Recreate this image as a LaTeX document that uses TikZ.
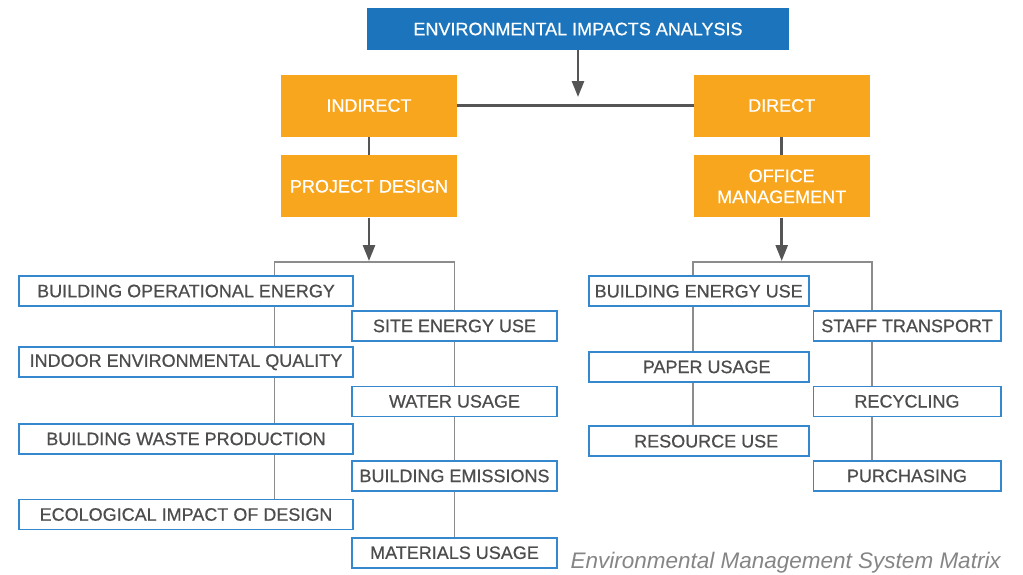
\documentclass[tikz,border=0pt]{standalone}
\usepackage{fontspec}
\setmainfont{Liberation Sans}
\newfontfamily\boxfam{Liberation Sans}[FakeBold=0.6]
\usetikzlibrary{arrows.meta}
\definecolor{topblue}{HTML}{1C75BC}
\definecolor{orng}{HTML}{F8A61E}
\definecolor{bordblue}{HTML}{3588CE}
\definecolor{txtgray}{HTML}{4D4D4D}
\definecolor{darkline}{HTML}{555555}
\definecolor{lightline}{HTML}{8C8C8C}
\definecolor{capgray}{HTML}{858585}
\begin{document}
\begin{tikzpicture}[x=1pt,y=-1pt,
  boxfont/.style={font=\boxfam\fontsize{18}{21}\selectfont},
  topbox/.style={boxfont, fill=topblue, text=white, minimum width=422pt, minimum height=42pt, inner sep=0pt},
  orangebox/.style={boxfont, fill=orng, text=white, minimum width=176pt, minimum height=62pt, inner sep=0pt, align=center},
  itembox/.style={boxfont, draw=bordblue, line width=1.6pt, fill=white, text=txtgray, minimum height=30pt, inner sep=0pt},
  arr/.style={draw=darkline, line width=2.6pt, -{Triangle[width=12pt,length=16pt]}},
  thickline/.style={draw=darkline, line width=2.6pt},
  bline/.style={draw=lightline, line width=1.3pt},
]
\useasboundingbox (0,0) rectangle (1023,574);

% top level
\node[topbox] (top) at (578,29) {ENVIRONMENTAL IMPACTS ANALYSIS};
\node[orangebox] (indirect) at (369,105.5) {INDIRECT};
\node[orangebox] (direct) at (781.7,105.5) {DIRECT};
\node[orangebox] (project) at (369,186.3) {PROJECT DESIGN};
\node[orangebox] (office) at (781.7,186.3) {OFFICE\\MANAGEMENT};

\coordinate (tipTop) at (578,97);
\coordinate (tipL) at (369,261);
\coordinate (tipR) at (781.7,261);

\draw[arr] (top.south) -- (tipTop);
\draw[thickline] (indirect.east) -- (direct.west);
\draw[thickline] (indirect.south) -- (project.north);
\draw[thickline] (direct.south) -- (office.north);
\draw[arr] (project.south) -- (tipL);
\draw[arr] (office.south) -- (tipR);

% left group
\node[itembox, minimum width=334pt] (boe) at (186,291) {BUILDING OPERATIONAL ENERGY};
\node[itembox, minimum width=334pt] (ieq) at (186,362.2) {INDOOR ENVIRONMENTAL QUALITY};
\node[itembox, minimum width=334pt] (bwp) at (186,438.9) {BUILDING WASTE PRODUCTION};
\node[itembox, minimum width=334pt] (eid) at (186,514.5) {ECOLOGICAL IMPACT OF DESIGN};
\node[itembox, minimum width=205pt] (seu) at (454.5,325.9) {SITE ENERGY USE};
\node[itembox, minimum width=205pt] (wu) at (454.5,401.3) {WATER USAGE};
\node[itembox, minimum width=205pt] (be) at (454.5,475.9) {BUILDING EMISSIONS};
\node[itembox, minimum width=205pt] (mu) at (454.5,552.7) {MATERIALS USAGE};

\coordinate (brLa) at (274.5,262);
\coordinate (brLb) at (454.5,262);
\draw[bline] (boe.north -| brLa) -- (brLa) -- (brLb) -- (seu.north);
\draw[bline] (boe.south -| brLa) -- (ieq.north -| brLa);
\draw[bline] (ieq.south -| brLa) -- (bwp.north -| brLa);
\draw[bline] (bwp.south -| brLa) -- (eid.north -| brLa);
\draw[bline] (seu.south) -- (wu.north);
\draw[bline] (wu.south) -- (be.north);
\draw[bline] (be.south) -- (mu.north);

% right group
\node[itembox, minimum width=220pt] (beu) at (698.7,291.2) {BUILDING ENERGY USE};
\node[itembox, minimum width=220pt] (pu) at (698.7,366.9) {\hspace*{16pt}PAPER USAGE};
\node[itembox, minimum width=220pt] (ru) at (698.7,441.2) {\hspace*{15pt}RESOURCE USE};
\node[itembox, minimum width=187.4pt] (st) at (907,325.9) {STAFF TRANSPORT};
\node[itembox, minimum width=187.4pt] (rec) at (907,401.3) {RECYCLING};
\node[itembox, minimum width=187.4pt] (pur) at (907,475.9) {PURCHASING};

\coordinate (brRa) at (693,262);
\coordinate (brRb) at (872,262);
\draw[bline] (beu.north -| brRa) -- (brRa) -- (brRb) -- (st.north -| brRb);
\draw[bline] (beu.south -| brRa) -- (pu.north -| brRa);
\draw[bline] (pu.south -| brRa) -- (ru.north -| brRa);
\draw[bline] (st.south -| brRb) -- (rec.north -| brRb);
\draw[bline] (rec.south -| brRb) -- (pur.north -| brRb);

% caption
\node[anchor=base east, inner sep=0pt, text=capgray, font=\fontsize{22.5}{27}\selectfont\itshape] (cap) at (1001,568) {Environmental Management System Matrix};
\end{tikzpicture}
\end{document}
